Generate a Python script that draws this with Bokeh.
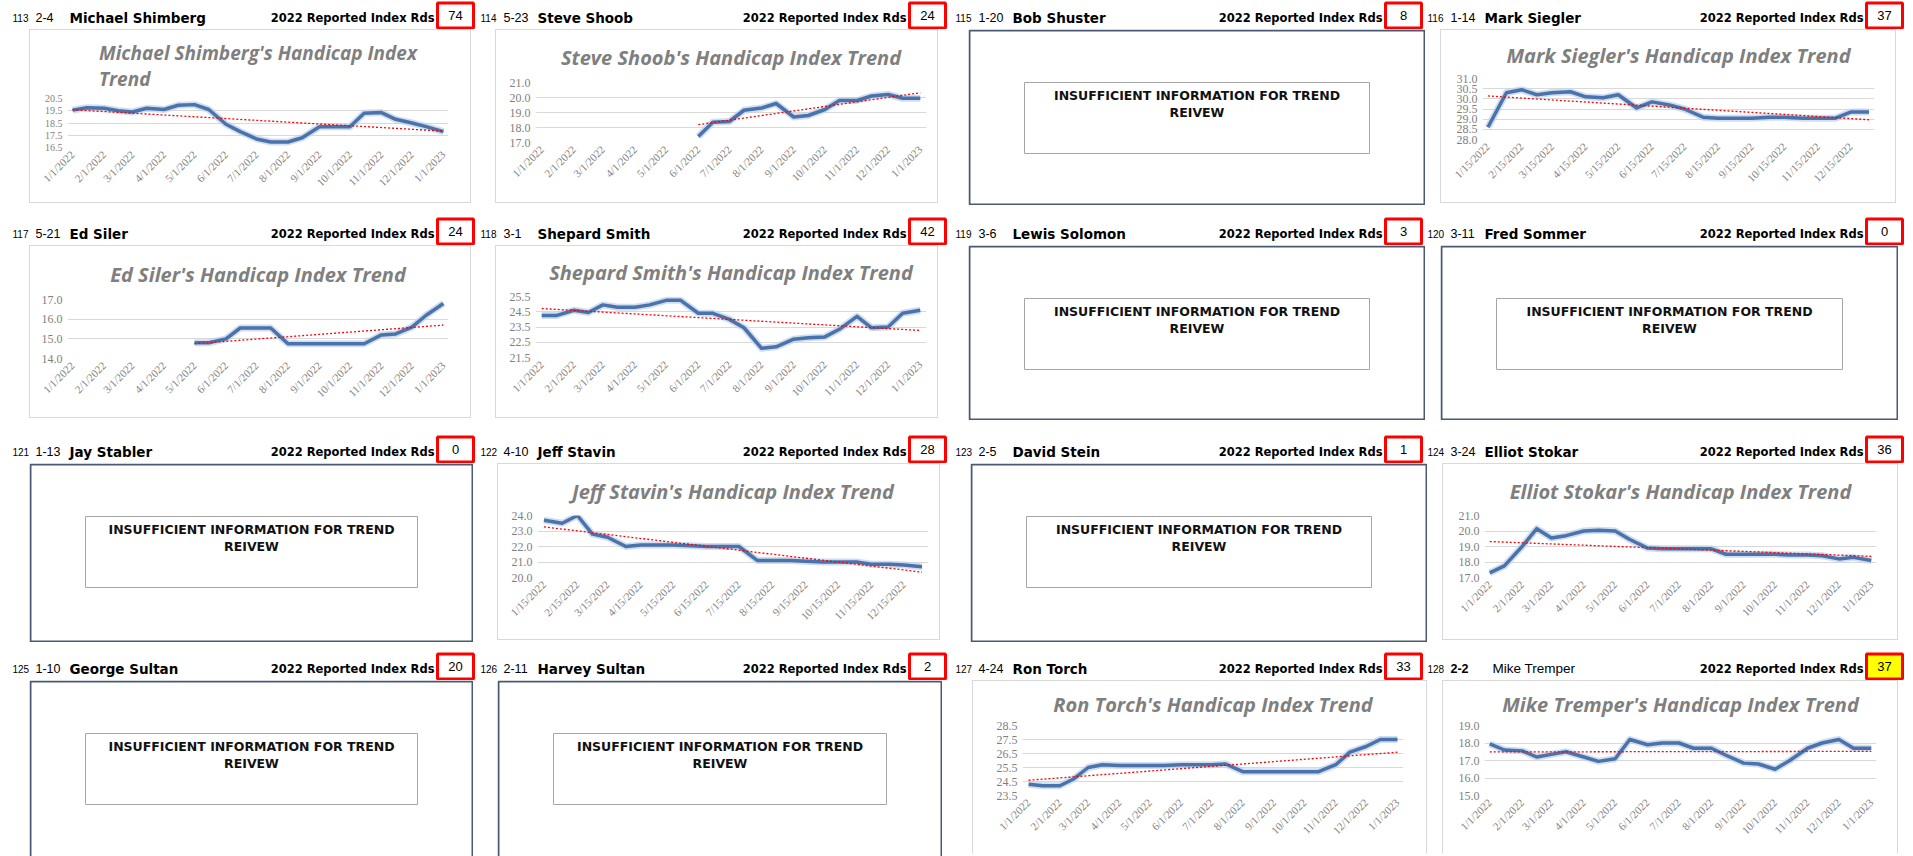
import math
from datetime import date
import numpy as np
from bokeh.plotting import figure
from bokeh.models import Range1d, FixedTicker, PrintfTickFormatter, Spacer, ColumnDataSource
from bokeh.layouts import column, row
from bokeh.core.properties import value
from bokeh.embed import file_html
from bokeh.resources import INLINE

# ---------------- data ----------------
DATES_A = ["2022-01-01", "2022-01-15", "2022-02-01", "2022-02-15", "2022-03-01", "2022-03-15",
           "2022-04-01", "2022-04-15", "2022-05-01", "2022-05-15", "2022-06-01", "2022-06-15",
           "2022-07-01", "2022-07-15", "2022-08-01", "2022-08-15", "2022-09-01", "2022-09-15",
           "2022-10-01", "2022-10-15", "2022-11-01", "2022-11-15", "2022-12-01", "2022-12-15",
           "2023-01-01"]
DATES_B = ["2022-01-15", "2022-02-01", "2022-02-15", "2022-03-01", "2022-03-15",
           "2022-04-01", "2022-04-15", "2022-05-01", "2022-05-15", "2022-06-01", "2022-06-15",
           "2022-07-01", "2022-07-15", "2022-08-01", "2022-08-15", "2022-09-01", "2022-09-15",
           "2022-10-01", "2022-10-15", "2022-11-01", "2022-11-15", "2022-12-01", "2022-12-15",
           "2023-01-01"]
TICK_LABELS_A = ["1/1/2022", "2/1/2022", "3/1/2022", "4/1/2022", "5/1/2022", "6/1/2022", "7/1/2022",
                 "8/1/2022", "9/1/2022", "10/1/2022", "11/1/2022", "12/1/2022", "1/1/2023"]
TICK_LABELS_B = ["1/15/2022", "2/15/2022", "3/15/2022", "4/15/2022", "5/15/2022", "6/15/2022",
                 "7/15/2022", "8/15/2022", "9/15/2022", "10/15/2022", "11/15/2022", "12/15/2022"]

ROW_NUMS = ["113", "114", "115", "116", "117", "118", "119", "120",
            "121", "122", "123", "124", "125", "126", "127", "128"]
CODES = ["2-4", "5-23", "1-20", "1-14", "5-21", "3-1", "3-6", "3-11",
         "1-13", "4-10", "2-5", "3-24", "1-10", "2-11", "4-24", "2-2"]
NAMES = ["Michael Shimberg", "Steve Shoob", "Bob Shuster", "Mark Siegler",
         "Ed Siler", "Shepard Smith", "Lewis Solomon", "Fred  Sommer",
         "Jay Stabler", "Jeff Stavin", "David Stein", "Elliot Stokar",
         "George Sultan", "Harvey Sultan", "Ron  Torch", "Mike Tremper"]
ROUNDS = [74, 24, 8, 37, 24, 42, 3, 0, 0, 28, 1, 36, 20, 2, 33, 37]

shimberg_idx = [19.55, 19.75, 19.7, 19.5, 19.4, 19.7, 19.6, 19.95, 20.0, 19.6, 18.4, 17.8, 17.2,
                16.95, 16.95, 17.3, 18.2, 18.2, 18.2, 19.3, 19.35, 18.8, 18.5, 18.2, 17.8]
shoob_idx = [None, None, None, None, None, None, None, None, None, None,
             17.4, 18.35, 18.4, 19.15, 19.3, 19.6, 18.7, 18.8, 19.2, 19.8, 19.8, 20.1, 20.2, 19.95, 19.95]
siegler_idx = [28.6, 30.3, 30.45, 30.2, 30.3, 30.35, 30.1, 30.05, 30.2, 29.55, 29.85, 29.7,
               29.5, 29.1, 29.05, 29.05, 29.05, 29.1, 29.1, 29.05, 29.05, 29.05, 29.35, 29.35]
siler_idx = [None, None, None, None, None, None, None, None,
             14.8, 14.8, 15.0, 15.55, 15.55, 15.55, 14.75, 14.75, 14.75, 14.75, 14.75, 14.75,
             15.2, 15.25, 15.6, 16.2, 16.8]
smith_idx = [24.25, 24.25, 24.6, 24.45, 24.95, 24.8, 24.8, 24.95, 25.25, 25.25, 24.4, 24.4, 24.0,
             23.45, 22.1, 22.2, 22.7, 22.8, 22.85, 23.35, 24.2, 23.45, 23.5, 24.4, 24.6]
stavin_idx = [23.7, 23.5, 24.0, 22.8, 22.6, 22.0, 22.1, 22.1, 22.1, 22.05, 22.0, 22.0,
              22.0, 21.1, 21.1, 21.1, 21.05, 21.0, 21.0, 21.0, 20.85, 20.85, 20.8, 20.7]
stokar_idx = [17.3, 17.75, 19.0, 20.15, 19.55, 19.7, 20.0, 20.05, 20.0, 19.45, 18.9, 18.85, 18.85,
              18.85, 18.85, 18.5, 18.5, 18.5, 18.5, 18.45, 18.45, 18.4, 18.2, 18.3, 18.1]
torch_idx = [24.3, 24.2, 24.2, 24.7, 25.5, 25.7, 25.65, 25.65, 25.65, 25.65, 25.7, 25.7, 25.7,
             25.75, 25.2, 25.2, 25.2, 25.2, 25.2, 25.2, 25.7, 26.6, 27.0, 27.5, 27.5]
tremper_idx = [17.95, 17.6, 17.55, 17.2, 17.35, 17.5, 17.2, 16.95, 17.1, 18.2, 17.9, 18.0, 18.0,
               17.7, 17.7, 17.3, 16.85, 16.8, 16.5, 17.0, 17.7, 18.0, 18.2, 17.7, 17.7]

shimberg_yticks = [16.5, 17.5, 18.5, 19.5, 20.5]
shoob_yticks = [17.0, 18.0, 19.0, 20.0, 21.0]
siegler_yticks = [28.0, 28.5, 29.0, 29.5, 30.0, 30.5, 31.0]
siler_yticks = [14.0, 15.0, 16.0, 17.0]
smith_yticks = [21.5, 22.5, 23.5, 24.5, 25.5]
stavin_yticks = [20.0, 21.0, 22.0, 23.0, 24.0]
stokar_yticks = [17.0, 18.0, 19.0, 20.0, 21.0]
torch_yticks = [23.5, 24.5, 25.5, 26.5, 27.5, 28.5]
tremper_yticks = [15.0, 16.0, 17.0, 18.0, 19.0]

CHARTS = {
    "Michael Shimberg": (DATES_A, shimberg_idx, shimberg_yticks, TICK_LABELS_A,
                         "Michael Shimberg's Handicap Index\nTrend"),
    "Steve Shoob": (DATES_A, shoob_idx, shoob_yticks, TICK_LABELS_A, "Steve Shoob's Handicap Index Trend"),
    "Mark Siegler": (DATES_B, siegler_idx, siegler_yticks, TICK_LABELS_B, "Mark Siegler's Handicap Index Trend"),
    "Ed Siler": (DATES_A, siler_idx, siler_yticks, TICK_LABELS_A, "Ed Siler's Handicap Index Trend"),
    "Shepard Smith": (DATES_A, smith_idx, smith_yticks, TICK_LABELS_A, "Shepard Smith's Handicap Index Trend"),
    "Jeff Stavin": (DATES_B, stavin_idx, stavin_yticks, TICK_LABELS_B, "Jeff Stavin's Handicap Index Trend"),
    "Elliot Stokar": (DATES_A, stokar_idx, stokar_yticks, TICK_LABELS_A, "Elliot Stokar's Handicap Index Trend"),
    "Ron  Torch": (DATES_A, torch_idx, torch_yticks, TICK_LABELS_A, "Ron Torch's Handicap Index Trend"),
    "Mike Tremper": (DATES_A, tremper_idx, tremper_yticks, TICK_LABELS_A, "Mike Tremper's Handicap Index Trend"),
}

# ---------------- layout geometry (page pixels) ----------------
PAGE_W = 1905
PANEL_LEFT = [29, 497, 972, 1444]
PANEL_W = [444, 445, 457, 458]
BOX_LEFT = [437, 909, 1385, 1866]
HDR_H = [29, 40, 43, 38]
PANEL_H = [176, 175, 179, 176]
FRAME_LEFT = [38, 40, 50, 42]
FRAME_RIGHT = [25, 14, 26, 24]
PAD_DAYS = [5, 6, 6, 5]
FRAME_TB = {"Michael Shimberg": (69, 49), "Steve Shoob": (51, 62), "Mark Siegler": (47, 63),
            "Ed Siler": (52, 61), "Shepard Smith": (49, 63), "Jeff Stavin": (50, 64),
            "Elliot Stokar": (50, 64), "Ron  Torch": (43, 72), "Mike Tremper": (43, 72)}


def day(s):
    if "/" in s:
        m, d, y = map(int, s.split("/"))
    else:
        y, m, d = map(int, s.split("-"))
    return (date(y, m, d) - date(2022, 1, 1)).days


def header_band(r):
    hb = HDR_H[r]
    p = figure(width=PAGE_W, height=hb, x_range=Range1d(0, PAGE_W), y_range=Range1d(0, hb),
               x_axis_type=None, y_axis_type=None, min_border=0,
               output_backend="svg", toolbar_location=None)
    p.grid.visible = False
    p.outline_line_color = None
    ty = 12
    for c in range(4):
        i = r * 4 + c
        pl = PANEL_LEFT[c]
        bl = BOX_LEFT[c]
        p.quad(left=[bl], right=[bl + 36], bottom=[1.5], top=[26.5],
               fill_color="#ffff00" if i == 15 else "white", line_color="#ff0000", line_width=3)
        p.text(x=[bl + 18], y=[14], text=[str(ROUNDS[i])], text_align="center",
               text_baseline="middle", text_font=value("Liberation Sans"), text_font_size="13px",
               text_color="black")
        p.text(x=[pl - 17], y=[ty], text=[ROW_NUMS[i]], text_baseline="middle",
               text_font=value("Liberation Sans"), text_font_size="10px", text_color="black")
        p.text(x=[pl + 6], y=[ty], text=[CODES[i]], text_baseline="middle",
               text_font=value("Liberation Sans"), text_font_size="12.5px", text_color="black",
               text_font_style="bold" if i == 15 else "normal")
        p.text(x=[pl + 40 + (8 if i == 15 else 0)], y=[ty], text=[NAMES[i]], text_baseline="middle",
               text_font=value("DejaVu Sans" if i != 15 else "Liberation Sans"),
               text_font_size="13.5px", text_font_style="normal" if i == 15 else "bold",
               text_color="black")
        p.text(x=[bl - 3], y=[ty], text=["2022 Reported Index Rds"], text_align="right",
               text_baseline="middle", text_font=value("DejaVu Sans"), text_font_size="11.5px",
               text_font_style="bold", text_color="black")
    return p


def insufficient(w, h, last_row):
    p = figure(width=w, height=h, x_range=Range1d(0, w), y_range=Range1d(0, h),
               x_axis_type=None, y_axis_type=None, min_border=0,
               output_backend="svg", toolbar_location=None)
    p.grid.visible = False
    p.outline_line_color = None
    if last_row:
        p.line([1, 1, w - 1, w - 1], [0, h - 1, h - 1, 0], line_color="#4a5a75", line_width=2)
    else:
        p.quad(left=[1], right=[w - 1], top=[h - 1], bottom=[1], fill_color=None,
               line_color="#4a5a75", line_width=2)
    p.quad(left=[56], right=[w - 56], top=[h - 53], bottom=[h - 124], fill_color=None,
           line_color="#a6a6a6", line_width=1)
    p.text(x=[w / 2, w / 2], y=[h - 66, h - 83], text=["INSUFFICIENT INFORMATION FOR TREND", "REIVEW"],
           text_align="center", text_baseline="middle", text_font=value("DejaVu Sans"),
           text_font_style="bold", text_font_size="12.5px", text_color="#111111")
    return p


def chart(name, w, h, c, last_row):
    dates, vals, yticks, tick_labels, title = CHARTS[name]
    top, fh = FRAME_TB[name]
    left, right = FRAME_LEFT[c], FRAME_RIGHT[c]
    bottom = h - top - fh
    xs = [day(d) for d in dates]
    tick_days = [day(t) for t in tick_labels]
    pad = PAD_DAYS[c]
    st = {"border": "1px solid #d9d9d9"}
    if last_row:
        st["border-bottom"] = "1px solid white"
    p = figure(width=w - 2, height=h - 2,
               x_range=Range1d(xs[0] - pad, xs[-1] + pad),
               y_range=Range1d(yticks[0], yticks[-1]),
               min_border_left=left - 1, min_border_right=right - 1,
               min_border_top=top - 1, min_border_bottom=bottom - 1,
               output_backend="svg", toolbar_location=None, styles=st)
    two_lines = "\n" in title
    p.title.text = title
    p.title.align = "center"
    p.title.text_font = "Open Sans"
    p.title.text_font_style = "bold italic"
    p.title.text_font_size = "19px" if two_lines else "20px"
    p.title.text_color = "#7f7f7f"
    p.title.standoff = max(4, top - (56 if two_lines else 28))
    p.outline_line_color = None
    p.xgrid.grid_line_color = None
    p.ygrid.grid_line_color = "#d9d9d9"
    p.xaxis.ticker = FixedTicker(ticks=tick_days)
    p.xaxis.major_label_overrides = {t: l for t, l in zip(tick_days, tick_labels)}
    p.xaxis.major_label_orientation = math.pi / 4
    p.yaxis.ticker = FixedTicker(ticks=yticks)
    p.yaxis.formatter = PrintfTickFormatter(format="%.1f")
    for ax in (p.xaxis[0], p.yaxis[0]):
        ax.axis_line_color = None
        ax.major_tick_line_color = None
        ax.minor_tick_line_color = None
        ax.major_tick_out = 0
        ax.major_tick_in = 0
        ax.minor_tick_out = 0
        ax.major_label_text_font = "Liberation Serif"
        ax.major_label_text_color = "#7f7f7f"
        ax.major_label_standoff = 5
    p.xaxis.major_label_text_font_size = "11px"
    p.yaxis.major_label_text_font_size = "10px" if two_lines else "12px"

    ys = [np.nan if v is None else v for v in vals]
    src = ColumnDataSource(dict(x=xs, y=ys))
    p.line("x", "y", source=src, line_width=7, color="#bcd0ea", alpha=0.7, line_join="round")
    p.line("x", "y", source=src, line_width=3.5, color="#4a72ab", line_join="round")
    vx = np.array([x for x, v in zip(xs, vals) if v is not None], dtype=float)
    vy = np.array([v for v in vals if v is not None], dtype=float)
    k, b = np.polyfit(vx, vy, 1)
    p.line([vx[0], vx[-1]], [k * vx[0] + b, k * vx[-1] + b], color="#ff0000",
           line_width=1.3, line_dash="2 2")
    return p


rows = []
for r in range(4):
    rows.append(header_band(r))
    ph = PANEL_H[r]
    last = (r == 3)
    items = [Spacer(width=PANEL_LEFT[0], height=ph)]
    for c in range(4):
        i = r * 4 + c
        w = PANEL_W[c]
        if NAMES[i] in CHARTS:
            items.append(column(chart(NAMES[i], w, ph, c, last)))
        else:
            items.append(column(insufficient(w, ph, last)))
        if c < 3:
            items.append(Spacer(width=PANEL_LEFT[c + 1] - (PANEL_LEFT[c] + PANEL_W[c]), height=ph))
    rows.append(row(*items))

layout = column(*rows)
open("out.html", "w").write(file_html(layout, INLINE))
